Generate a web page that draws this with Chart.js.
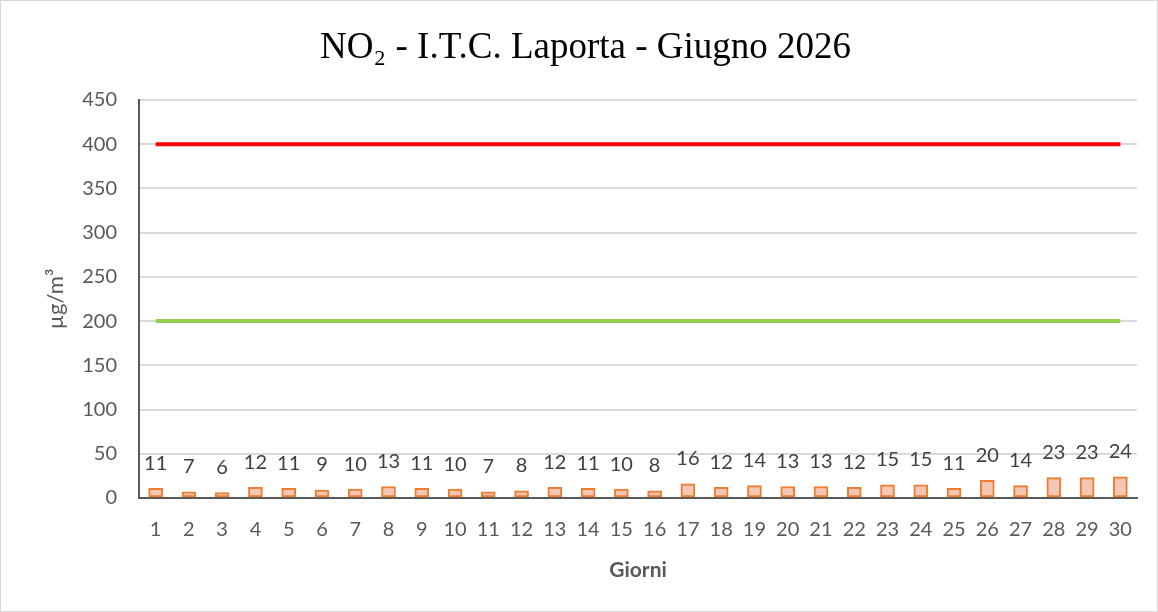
<!DOCTYPE html>
<html>
<head>
<meta charset="utf-8">
<script src="https://cdn.jsdelivr.net/npm/chart.js@4.4.1/dist/chart.umd.min.js"></script>
<style>
html,body{margin:0;padding:0;background:#fff;}
#wrap{width:1158px;height:612px;position:relative;}
</style>
</head>
<body>
<div id="wrap"><canvas id="c" width="1158" height="612"></canvas></div>
<script>
const days = ['1','2','3','4','5','6','7','8','9','10','11','12','13','14','15','16','17','18','19','20','21','22','23','24','25','26','27','28','29','30'];
const no2Values = [11,7,6,12,11,9,10,13,11,10,7,8,12,11,10,8,16,12,14,13,13,12,15,15,11,20,14,23,23,24];
const limitHourly = days.map(() => 400);
const limitAlert = days.map(() => 200);
const yTicks = [0,50,100,150,200,250,300,350,400,450];

const tickFont = {family: 'Lato, "Open Sans", sans-serif', size: 20};

const labelPlugin = {
  id: 'barLabels',
  afterDatasetsDraw(chart) {
    const meta = chart.getDatasetMeta(0);
    const ctx = chart.ctx;
    ctx.save();
    ctx.font = '20px Lato, "Open Sans", sans-serif';
    ctx.fillStyle = '#404040';
    ctx.textAlign = 'center';
    ctx.textBaseline = 'middle';
    meta.data.forEach((bar, i) => {
      ctx.fillText(String(no2Values[i]), bar.x, bar.y - 25);
    });
    ctx.restore();
  }
};
const borderPlugin = {
  id: 'outerBorder',
  afterDraw(chart) {
    const ctx = chart.ctx;
    ctx.save();
    ctx.strokeStyle = '#D9D9D9';
    ctx.lineWidth = 1;
    ctx.strokeRect(0.5, 0.5, chart.width - 1, chart.height - 1);
    ctx.restore();
  }
};

new Chart(document.getElementById('c'), {
  data: {
    labels: days,
    datasets: [
      {
        type: 'bar',
        label: 'NO2',
        data: no2Values,
        backgroundColor: '#F5C6B4',
        borderColor: '#ED7D31',
        borderWidth: 2,
        borderSkipped: false,
        barThickness: 14,
        order: 2
      },
      {
        type: 'line',
        label: 'Soglia 400',
        data: limitHourly,
        borderColor: '#FF0000',
        borderWidth: 4,
        pointRadius: 0,
        fill: false,
        order: 1
      },
      {
        type: 'line',
        label: 'Limite 200',
        data: limitAlert,
        borderColor: '#92D050',
        borderWidth: 4,
        pointRadius: 0,
        fill: false,
        order: 1
      }
    ]
  },
  options: {
    responsive: false,
    animation: false,
    layout: {padding: {left: 34, right: 21, top: 0, bottom: 0}},
    plugins: {
      legend: {display: false},
      tooltip: {enabled: false},
      title: {
        display: true,
        text: 'NO₂ - I.T.C. Laporta - Giugno 2026',
        font: {family: '"Liberation Serif", "Times New Roman", serif', size: 37, weight: 'normal'},
        color: '#000000',
        padding: {top: 26, bottom: 29.6}
      }
    },
    scales: {
      x: {
        grid: {display: false, drawTicks: false},
        border: {display: true, color: '#595959', width: 2},
        ticks: {font: tickFont, color: '#595959', padding: 20, maxRotation: 0, autoSkip: false},
        title: {
          display: true,
          text: 'Giorni',
          font: {family: 'Lato, "Open Sans", sans-serif', size: 21, weight: 'bold'},
          color: '#595959',
          padding: {top: 0, bottom: 29}
        },
        afterFit(scale) { scale.height = 114; }
      },
      y: {
        min: 0,
        max: 450,
        afterBuildTicks(scale) { scale.ticks = yTicks.map(v => ({value: v})); },
        grid: {color: '#D9D9D9', lineWidth: 2, drawTicks: false},
        border: {display: true, color: '#595959', width: 2},
        ticks: {font: tickFont, color: '#595959', padding: 22},
        title: {
          display: true,
          text: 'µg/m³',
          font: {family: 'Lato, "Open Sans", sans-serif', size: 22},
          color: '#595959',
          padding: {top: 9, bottom: 0}
        },
        afterFit(scale) { scale.width = 105; }
      }
    }
  },
  plugins: [labelPlugin, borderPlugin]
});
</script>
</body>
</html>
